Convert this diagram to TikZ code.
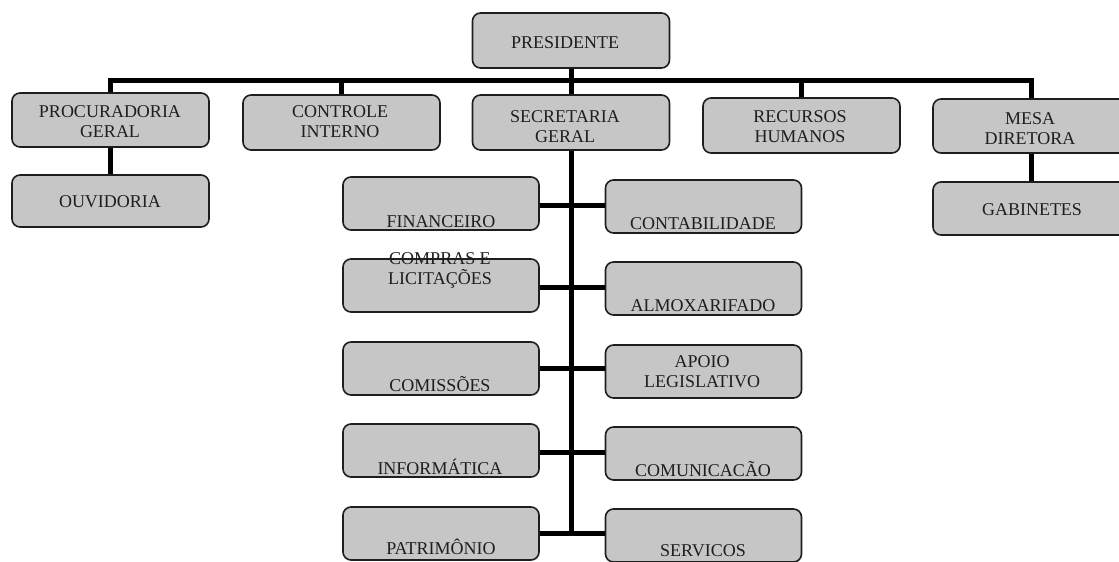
\documentclass[tikz,border=0pt]{standalone}
\usepackage{fontspec}
\setmainfont{Liberation Serif}
\definecolor{boxfill}{RGB}{198,198,198}
\definecolor{ink}{RGB}{30,30,30}
\begin{document}
\begin{tikzpicture}[x=1pt,y=-1pt,
  box/.style={draw=ink, line width=1.6pt, rounded corners=8pt, fill=boxfill,
    minimum width=197pt, minimum height=54pt, inner sep=0pt, anchor=center},
  colbox/.style={box, minimum width=196pt, minimum height=53pt},
  txt/.style={font=\fontsize{18}{20}\selectfont, align=center, inner sep=0pt, text=ink},
  one/.style={txt, text height=11.9pt, text depth=0pt},
  conn/.style={draw=black, line width=5pt, line join=miter}]
\useasboundingbox (0,0) rectangle (1119,562);

% connector helper coordinates
\coordinate (bus) at (571,80);
\coordinate (s1) at (571,205);
\coordinate (s2) at (571,287);
\coordinate (s3) at (571,368);
\coordinate (s4) at (571,452);
\coordinate (s5) at (571,533);

% boxes
\node[box, minimum height=55pt] (pres) at (571,40.5) {};
\node[box] (proc) at (110.5,120) {};
\node[box, minimum height=55pt] (ctrl) at (341.5,122.5) {};
\node[box, minimum height=55pt] (sec) at (571,122.5) {};
\node[box, minimum height=55pt] (rh) at (801.5,125.5) {};
\node[box] (mesa) at (1031.5,126) {};
\node[box, minimum height=52pt] (ouv) at (110.5,201) {};
\node[box, minimum height=53pt] (gab) at (1031.5,208.5) {};

\node[colbox] (fin) at (441,203.5) {};
\node[colbox] (comp) at (441,285.5) {};
\node[colbox] (comi) at (441,368.5) {};
\node[colbox] (info) at (441,450.5) {};
\node[colbox] (patr) at (441,533.5) {};

\node[colbox] (cont) at (703.5,206.5) {};
\node[colbox] (almo) at (703.5,288.5) {};
\node[colbox] (apoio) at (703.5,371.5) {};
\node[colbox] (comu) at (703.5,453.5) {};
\node[colbox] (serv) at (703.5,535.5) {};

% connectors
\draw[conn] (pres.south) -- (sec.north);
\draw[conn] (proc.north) |- (bus) -| (mesa.north);
\draw[conn] (ctrl.north) -- (ctrl.north |- bus);
\draw[conn] (rh.north) -- (rh.north |- bus);
\draw[conn] (proc.south) -- (ouv.north);
\draw[conn] (mesa.south) -- (gab.north);
\draw[conn] (sec.south) -- (s5);
\draw[conn] (fin.east |- s1) -- (cont.west |- s1);
\draw[conn] (comp.east |- s2) -- (almo.west |- s2);
\draw[conn] (comi.east |- s3) -- (apoio.west |- s3);
\draw[conn] (info.east |- s4) -- (comu.west |- s4);
\draw[conn] (patr.east |- s5) -- (serv.west |- s5);

% texts
\node[one] (pres-t) at (565,43) {PRESIDENTE};
\node[txt] (proc-t) at (110,122) {PROCURADORIA\\GERAL};
\node[txt] (ctrl-t) at (340,122) {CONTROLE\\INTERNO};
\node[txt] (sec-t) at (565,127) {SECRETARIA\\GERAL};
\node[txt] (rh-t) at (800,127) {RECURSOS\\HUMANOS};
\node[txt] (mesa-t) at (1030,129) {MESA\\DIRETORA};
\node[one] (ouv-t) at (110,202) {OUVIDORIA};
\node[one] (gab-t) at (1032,210) {GABINETES};

\node[one] (fin-t) at (441,222) {FINANCEIRO};
\node[txt] (comp-t) at (440,270) {COMPRAS E\\LICITAÇÕES};
\node[one] (comi-t) at (440,386) {COMISSÕES};
\node[one] (info-t) at (440,469) {INFORMÁTICA};
\node[one] (patr-t) at (441,549) {PATRIMÔNIO};

\node[one] (cont-t) at (703,224) {CONTABILIDADE};
\node[one] (almo-t) at (703,306) {ALMOXARIFADO};
\node[txt] (apoio-t) at (702,372) {APOIO\\LEGISLATIVO};
\node[one] (comu-t) at (703,471) {COMUNICACÃO};
\node[one] (serv-t) at (703,551) {SERVICOS};
\end{tikzpicture}
\end{document}
